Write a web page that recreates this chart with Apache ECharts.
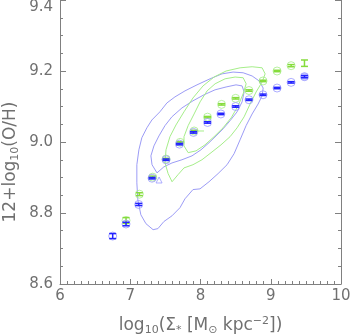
<!DOCTYPE html>
<html><head><meta charset="utf-8">
<script src="https://cdn.jsdelivr.net/npm/echarts@6/dist/echarts.min.js"></script>
<style>html,body{margin:0;padding:0;background:#fff}#c{width:350px;height:334px}</style>
</head><body><div id="c"></div>
<script>
// ---- data ----
var xTicks = [6, 7, 8, 9, 10];
var yTicks = [8.6, 8.8, 9.0, 9.2, 9.4];

var blueX   = [6.75, 6.94, 7.12, 7.31, 7.51, 7.70, 7.90, 8.10, 8.29, 8.50, 8.69, 8.89, 9.09, 9.29, 9.48];
var blueY   = [8.735, 8.769, 8.824, 8.898, 8.950, 8.994, 9.027, 9.055, 9.079, 9.100, 9.119, 9.133, 9.152, 9.168, 9.184];
var blueErr = [0.007, 0.005, 0.003, 0.002, 0.002, 0.002, 0.002, 0.002, 0.002, 0.002, 0.002, 0.002, 0.002, 0.002, 0.003];

var greenX   = [6.94, 7.13, 7.32, 7.51, 7.71, 7.91, 8.10, 8.30, 8.50, 8.69, 8.89, 9.09, 9.29, 9.48];
var greenY   = [8.779, 8.853, 8.901, 8.952, 8.999, 9.031, 9.070, 9.106, 9.123, 9.145, 9.172, 9.200, 9.215, 9.222];
var greenErr = [0.008, 0.004, 0.003, 0.002, 0.002, 0.002, 0.002, 0.002, 0.002, 0.002, 0.002, 0.002, 0.003, 0.009];

var blueOuter = [[7.325,8.753],[7.223,8.770],[7.151,8.795],[7.108,8.837],[7.094,8.885],[7.094,8.936],[7.123,8.978],[7.165,9.012],[7.237,9.040],[7.308,9.062],[7.422,9.085],[7.522,9.110],[7.636,9.127],[7.779,9.144],[7.950,9.161],[8.136,9.178],[8.307,9.192],[8.464,9.197],[8.607,9.195],[8.735,9.186],[8.835,9.172],[8.892,9.152],[8.877,9.130],[8.820,9.107],[8.735,9.079],[8.649,9.046],[8.563,9.006],[8.478,8.967],[8.378,8.936],[8.250,8.911],[8.121,8.888],[7.993,8.868],[7.893,8.866],[7.779,8.840],[7.708,8.815],[7.594,8.792],[7.479,8.776],[7.394,8.756],[7.325,8.753]];
var blueInner = [[7.381,8.913],[7.310,8.936],[7.294,8.961],[7.337,8.989],[7.408,9.017],[7.494,9.046],[7.593,9.071],[7.736,9.096],[7.893,9.116],[8.050,9.133],[8.207,9.147],[8.364,9.155],[8.506,9.161],[8.592,9.158],[8.621,9.141],[8.592,9.113],[8.521,9.085],[8.421,9.060],[8.321,9.037],[8.221,9.017],[8.121,8.998],[8.007,8.978],[7.879,8.961],[7.736,8.950],[7.594,8.941],[7.479,8.930],[7.381,8.913]];
var greenOuter = [[7.595,8.888],[7.539,8.911],[7.495,8.941],[7.509,8.978],[7.565,9.015],[7.651,9.048],[7.765,9.085],[7.893,9.124],[8.036,9.158],[8.193,9.183],[8.364,9.200],[8.564,9.209],[8.735,9.212],[8.877,9.209],[8.920,9.192],[8.877,9.169],[8.792,9.141],[8.706,9.107],[8.621,9.071],[8.521,9.040],[8.421,9.015],[8.292,8.992],[8.164,8.972],[8.021,8.950],[7.893,8.936],[7.765,8.927],[7.680,8.908],[7.595,8.888]];
var greenInner = [[7.824,8.970],[7.765,8.989],[7.765,9.015],[7.824,9.046],[7.909,9.079],[7.994,9.113],[8.094,9.144],[8.208,9.164],[8.350,9.178],[8.493,9.183],[8.607,9.181],[8.650,9.164],[8.607,9.136],[8.536,9.102],[8.436,9.068],[8.321,9.040],[8.193,9.015],[8.064,8.992],[7.936,8.975],[7.824,8.970]];
var blueTriangle = [[7.41, 8.893]];
var greenStub = [[7.95, 9.031], [8.05, 9.031]];

// ---- styling ----
var FONT = 'DejaVu Sans';
var TXT = '#707070';
var AX = '#808080';
var BLUE_C = '#9c9cf6', GREEN_C = '#a6ee8a';
var BLUE_BAR = '#2222ff', GREEN_BAR = '#86dc3c';
var BLUE_RING = '#9a9aff', GREEN_RING = '#a6ee8a';

function pairs(xs, ys, es) { return xs.map(function (x, i) { return [x, ys[i], es[i]]; }); }

function errRender(color) {
  return function (params, api) {
    var x = api.value(0), y = api.value(1), e = api.value(2);
    var lo = api.coord([x, y - e]), hi = api.coord([x, y + e]);
    var w = 3.5, st = { stroke: color, lineWidth: 1.5 };
    return { type: 'group', children: [
      { type: 'line', shape: { x1: lo[0], y1: lo[1], x2: hi[0], y2: hi[1] }, style: st },
      { type: 'line', shape: { x1: lo[0] - w, y1: lo[1], x2: lo[0] + w, y2: lo[1] }, style: st },
      { type: 'line', shape: { x1: hi[0] - w, y1: hi[1], x2: hi[0] + w, y2: hi[1] }, style: st }
    ]};
  };
}

function contour(data, color) {
  return { type: 'line', data: data, symbol: 'none', smooth: false, silent: true,
    lineStyle: { color: color, width: 1 }, z: 1 };
}

var greenPts = greenX.map(function (x, i) {
  var d = { value: [x, greenY[i]] };
  if (i === greenX.length - 1) d.symbol = 'none';
  return d;
});
var bluePts = blueX.map(function (x, i) {
  var d = { value: [x, blueY[i]] };
  if (i === blueX.length - 1) d.itemStyle = { color: '#b8b8ff' };
  return d;
});

var TSZ = 17;
var richY = {
  n: { fontFamily: FONT, fontSize: TSZ, fill: TXT, color: TXT, verticalAlign: 'middle', lineHeight: 20 },
  s: { fontFamily: FONT, fontSize: 11, fill: TXT, color: TXT, verticalAlign: 'bottom', lineHeight: 20 }
};
var chart = echarts.init(document.getElementById('c'), null, { renderer: 'canvas' });
chart.setOption({
  animation: false,
  backgroundColor: '#fff',
  grid: { left: 60, right: 9, top: 0, bottom: 50, outerBoundsMode: 'none', containLabel: false },
  graphic: [{
    type: 'text', x: 11, y: 162, rotation: Math.PI / 2, silent: true,
    style: { text: '{n|12+log}{s|10}{n|(O/H)}', rich: richY, fill: TXT, align: 'center', verticalAlign: 'middle' }
  }],
  xAxis: {
    type: 'value', min: xTicks[0], max: xTicks[xTicks.length - 1], interval: 1,
    axisLine: { lineStyle: { color: AX, width: 1 } },
    axisTick: { inside: true, length: 5, lineStyle: { color: AX } },
    minorTick: { show: true, splitNumber: 10, length: 3, lineStyle: { color: AX } },
    splitLine: { show: false },
    axisLabel: { color: TXT, fontFamily: FONT, fontSize: 15, margin: 5 },
    name: '{n|log}{s|10}{n|(Σ}{s|*}{n| [M}{s|⊙}{n| kpc}{p|−2}{n|])}',
    nameLocation: 'middle', nameGap: 32,
    nameTextStyle: { rich: {
      n: { fontFamily: FONT, fontSize: TSZ, color: TXT, verticalAlign: 'middle', lineHeight: 20 },
      s: { fontFamily: FONT, fontSize: 11, color: TXT, verticalAlign: 'bottom', lineHeight: 20 },
      p: { fontFamily: FONT, fontSize: 11, color: TXT, verticalAlign: 'top', lineHeight: 20 }
    } }
  },
  yAxis: [{
    type: 'value', min: yTicks[0], max: yTicks[yTicks.length - 1], interval: 0.2,
    axisLine: { show: true, lineStyle: { color: AX, width: 1 } },
    axisTick: { inside: true, length: 6, lineStyle: { color: AX } },
    minorTick: { show: true, splitNumber: 4, length: 3, lineStyle: { color: AX } },
    splitLine: { show: false },
    axisLabel: { color: TXT, fontFamily: FONT, fontSize: 15, margin: 7,
      formatter: function (v) { return v.toFixed(1); },
      verticalAlignMaxLabel: 'top' }
  }, {
    type: 'value', position: 'right', min: yTicks[0], max: yTicks[yTicks.length - 1], interval: 0.2,
    axisLine: { show: true, lineStyle: { color: AX, width: 1 } },
    axisTick: { inside: true, length: 6, lineStyle: { color: AX } },
    minorTick: { show: true, splitNumber: 4, length: 3, lineStyle: { color: AX } },
    splitLine: { show: false },
    axisLabel: { show: false }
  }],
  series: [
    contour(blueOuter, BLUE_C),
    contour(blueInner, BLUE_C),
    contour(greenOuter, GREEN_C),
    contour(greenInner, GREEN_C),
    { type: 'line', data: greenStub, symbol: 'none', lineStyle: { color: GREEN_C, width: 1 }, z: 1 },
    { type: 'scatter', data: greenPts, symbol: 'circle', symbolSize: 8, z: 2,
      itemStyle: { color: 'rgba(0,0,0,0)', borderColor: GREEN_RING, borderWidth: 1 } },
    { type: 'custom', data: pairs(greenX, greenY, greenErr), renderItem: errRender(GREEN_BAR), z: 3 },
    { type: 'scatter', data: blueTriangle, symbol: 'triangle', symbolSize: 6, z: 2,
      itemStyle: { color: 'rgba(0,0,0,0)', borderColor: BLUE_RING, borderWidth: 1 } },
    { type: 'scatter', data: bluePts, symbol: 'circle', symbolSize: 8, z: 4,
      itemStyle: { color: 'rgba(0,0,0,0)', borderColor: BLUE_RING, borderWidth: 1 } },
    { type: 'custom', data: pairs(blueX, blueY, blueErr), renderItem: errRender(BLUE_BAR), z: 5 }
  ]
});
</script></body></html>
